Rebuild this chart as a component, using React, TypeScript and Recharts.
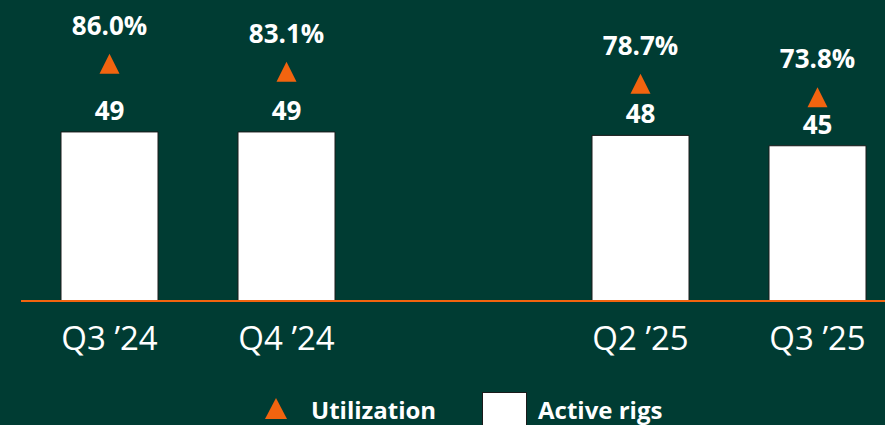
import React from 'react';
import {
  ComposedChart,
  Bar,
  Scatter,
  XAxis,
  YAxis,
  Legend,
  LabelList,
} from 'recharts';

const BG = '#003C33';
const ORANGE = '#F2640F';
const FONT = '"Open Sans", "DejaVu Sans", sans-serif';

// the empty slot is the quarter with no reported figures
const quarters = ['Q3 ’24', 'Q4 ’24', '', 'Q2 ’25', 'Q3 ’25'];
const activeRigs: (number | null)[] = [49, 49, null, 48, 45];
const utilization: (number | null)[] = [86.0, 83.1, null, 78.7, 73.8];

const data = quarters.map((q, i) => ({
  quarter: q,
  rigs: activeRigs[i],
  util: utilization[i],
}));

const Triangle = (props: any) => {
  const { cx, cy, payload } = props;
  if (payload == null || payload.util == null) return <g />;
  return (
    <polygon
      points={`${cx},${cy - 10} ${cx + 10},${cy + 10} ${cx - 10},${cy + 10}`}
      fill={ORANGE}
    />
  );
};

const UtilLabel = (props: any) => {
  const { x, y, width, height, value } = props;
  if (value == null) return null;
  const cx = x + width / 2;
  const cy = y + height / 2;
  return (
    <text
      x={cx}
      y={cy - 29}
      textAnchor="middle"
      fill="#ffffff"
      fontSize={26}
      fontWeight={700}
      fontFamily={FONT}
    >
      {Number(value).toFixed(1)}%
    </text>
  );
};

const legendText: React.CSSProperties = {
  position: 'absolute',
  top: 5,
  lineHeight: '25px',
  fontSize: 24,
  fontWeight: 700,
  color: '#ffffff',
  whiteSpace: 'nowrap',
};

const LegendContent = () => (
  <div style={{ position: 'relative', width: 906, height: 33, fontFamily: FONT }}>
    <svg
      width={22}
      height={21}
      style={{ position: 'absolute', left: 265, top: 6 }}
    >
      <polygon points="11,0 22,21 0,21" fill={ORANGE} />
    </svg>
    <div style={{ ...legendText, left: 311 }}>Utilization</div>
    <div
      style={{
        position: 'absolute',
        left: 482,
        top: 0,
        width: 43,
        height: 40,
        background: '#ffffff',
        border: '1px solid #1a1a1a',
      }}
    />
    <div style={{ ...legendText, left: 538 }}>Active rigs</div>
  </div>
);

export default function App() {
  return (
    <div
      style={{
        position: 'fixed',
        left: 0,
        top: 0,
        width: 885,
        height: 425,
        overflow: 'hidden',
        background: BG,
      }}
    >
      <ComposedChart
        width={906}
        height={425}
        data={data}
        margin={{ top: 25, right: 0, left: 21, bottom: 0 }}
      >
        <XAxis
          dataKey="quarter"
          axisLine={{ stroke: ORANGE, strokeWidth: 2 }}
          tickLine={false}
          tickMargin={20}
          height={91}
          interval={0}
          tick={{ fill: '#ffffff', fontSize: 33, fontFamily: FONT }}
        />
        <YAxis yAxisId="rigs" domain={[0, 80]} hide />
        <YAxis yAxisId="util" orientation="right" domain={[0, 100]} hide />
        <Bar
          yAxisId="rigs"
          dataKey="rigs"
          barSize={97}
          fill="#ffffff"
          stroke="#1a1a1a"
          strokeWidth={1}
          isAnimationActive={false}
        >
          <LabelList
            dataKey="rigs"
            position="top"
            offset={12}
            fill="#ffffff"
            fontSize={26}
            fontWeight={700}
            fontFamily={FONT}
          />
        </Bar>
        <Scatter
          yAxisId="util"
          dataKey="util"
          shape={Triangle}
          isAnimationActive={false}
        >
          <LabelList dataKey="util" content={UtilLabel} />
        </Scatter>
        <Legend
          verticalAlign="bottom"
          height={33}
          wrapperStyle={{ left: 0, width: 906, bottom: 0 }}
          content={LegendContent}
        />
      </ComposedChart>
    </div>
  );
}
